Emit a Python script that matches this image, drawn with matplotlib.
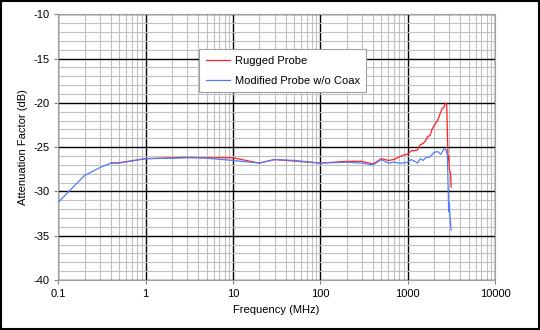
import matplotlib
matplotlib.use("Agg")
import matplotlib.pyplot as plt
from matplotlib.patches import Rectangle
from matplotlib.ticker import LogLocator, MultipleLocator, FixedLocator, FixedFormatter

plt.rcParams["font.family"] = ["Liberation Sans", "DejaVu Sans"]

# frequency (MHz) / attenuation (dB)
freq_blue = [0.1, 0.2, 0.3, 0.4, 0.5, 1, 2, 3, 4, 5, 10, 20, 30, 50, 100, 200, 300, 400,
             500, 600, 700, 800, 900, 1000, 1100, 1200, 1300, 1400, 1500, 1600, 1800,
             2000, 2200, 2400, 2600, 2750, 2850, 2950, 3000, 3050, 3150]
att_blue = [-31.2, -28.2, -27.3, -26.8, -26.8, -26.3, -26.25, -26.2, -26.2, -26.25, -26.5,
            -26.8, -26.4, -26.5, -26.8, -26.7, -26.8, -27.0, -26.4, -26.8, -26.7, -26.8,
            -26.8, -26.7, -26.4, -26.6, -26.8, -26.3, -26.5, -26.2, -26.1, -25.6, -25.5,
            -25.8, -25.2, -25.3, -26.0, -32.3, -31.3, -32.8, -34.4]

freq_red = [0.4, 0.5, 1, 2, 3, 5, 10, 20, 30, 100, 200, 300, 400, 500, 600, 700, 800, 900,
            1000, 1100, 1200, 1300, 1400, 1500, 1600, 1700, 1800, 1900, 2000, 2200, 2400,
            2500, 2600, 2700, 2800, 2900, 2950, 3000, 3100, 3150]
att_red = [-26.8, -26.75, -26.3, -26.2, -26.15, -26.2, -26.2, -26.8, -26.4, -26.8, -26.6,
           -26.6, -26.9, -26.3, -26.5, -26.4, -26.1, -25.9, -25.8, -25.4, -25.4, -25.3,
           -24.7, -24.6, -24.3, -23.8, -23.7, -23.0, -22.6, -22.0, -21.0, -20.6, -20.5,
           -20.0, -20.2, -26.5, -26.0, -27.5, -28.0, -29.5]

x_ticks = [0.1, 1, 10, 100, 1000, 10000]
x_labels = ["0.1", "1", "10", "100", "1000", "10000"]

fig = plt.figure(figsize=(5.4, 3.3), dpi=100)
ax = fig.add_axes([58.3 / 540, 1 - 280 / 330, (495 - 58.3) / 540, (280 - 14.3) / 330])

ax.plot(freq_red, att_red, color="#ff2020", lw=0.9, label="Rugged Probe", zorder=3)
ax.plot(freq_blue, att_blue, color="#4c7fff", lw=0.9, label="Modified Probe w/o Coax", zorder=4)

ax.set_xscale("log")
ax.set_xlim(0.1, 10000)
ax.set_ylim(-40, -10)
ax.xaxis.set_major_locator(FixedLocator(x_ticks))
ax.xaxis.set_major_formatter(FixedFormatter(x_labels))
ax.xaxis.set_minor_locator(LogLocator(base=10, subs=range(2, 10), numticks=20))
ax.yaxis.set_major_locator(MultipleLocator(5))
ax.yaxis.set_minor_locator(MultipleLocator(1))
ax.yaxis.set_major_formatter(matplotlib.ticker.FuncFormatter(lambda v, p: f"{v:.0f}"))

ax.grid(which="minor", color="#c0c0c0", lw=0.8)
ax.grid(which="major", color="black", lw=1.0)
ax.set_axisbelow(True)
ax.tick_params(which="major", length=3, color="#808080", labelsize=8)
ax.tick_params(which="minor", length=0)
for s in ax.spines.values():
    s.set_color("#a0a0a0")
    s.set_linewidth(0.8)

ax.set_xlabel("Frequency (MHz)", fontsize=8, labelpad=4)
ax.set_ylabel("Attenuation Factor (dB)", fontsize=8, labelpad=4)

leg = ax.legend(loc="upper left", bbox_to_anchor=((199 - 58.3) / 436.7, (280 - 49) / 265.7),
                borderaxespad=0, fontsize=8, frameon=True, fancybox=False, handlelength=2.2,
                borderpad=0.6, labelspacing=0.9, handletextpad=0.4)
leg.get_frame().set_edgecolor("#a0a0a0")
leg.get_frame().set_linewidth(0.8)
leg.get_frame().set_alpha(1)

fig.patches.append(Rectangle((0.002, 0.003), 0.996, 0.994, transform=fig.transFigure,
                             fill=False, edgecolor="black", lw=1.5))

fig.savefig("out.png", dpi=100)
